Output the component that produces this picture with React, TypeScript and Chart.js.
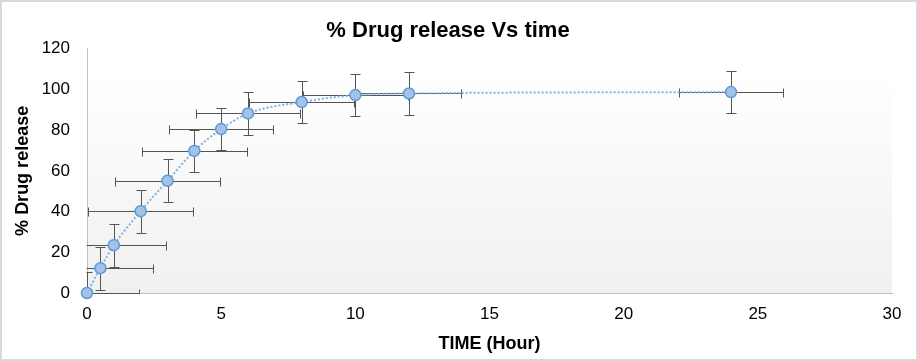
import React, { useEffect, useRef } from 'react';
import { Chart, registerables } from 'chart.js';

Chart.register(...registerables);

const chartTitle = '% Drug release Vs time';
const xAxisTitle = 'TIME (Hour)';
const yAxisTitle = '% Drug release';

const timeHours = [0, 0.5, 1, 2, 3, 4, 5, 6, 8, 10, 12, 24];
const drugRelease = [0, 12.2, 23.5, 40.2, 55.1, 69.8, 80.5, 88.2, 93.8, 97.2, 98.0, 98.7];
const releaseError = [10.5, 10.5, 10.5, 10.5, 10.5, 10.5, 10.5, 10.5, 10.5, 10.5, 10.5, 10.5];
const timeError = [1.95, 1.95, 1.95, 1.95, 1.95, 1.95, 1.95, 1.95, 1.95, 1.95, 1.95, 1.95];

const xMin = 0;
const xMax = 30;
const xStep = 5;
const yMin = 0;
const yMax = 120;
const yStep = 20;

const FONT = "Arial, 'Liberation Sans', sans-serif";

const backgroundPlugin = {
  id: 'bgAndBorder',
  beforeDraw(chart: any) {
    const { ctx, chartArea, width, height } = chart;
    ctx.save();
    ctx.fillStyle = '#ffffff';
    ctx.fillRect(0, 0, width, height);
    const g = ctx.createLinearGradient(0, chartArea.top, 0, chartArea.bottom);
    g.addColorStop(0, '#ffffff');
    g.addColorStop(0.1, '#ffffff');
    g.addColorStop(1, '#f0f0f0');
    ctx.fillStyle = g;
    ctx.fillRect(chartArea.left, chartArea.top, chartArea.right - chartArea.left, chartArea.bottom - chartArea.top);
    ctx.strokeStyle = '#d9d9d9';
    ctx.lineWidth = 2;
    ctx.strokeRect(1, 1, width - 2, height - 2);
    ctx.restore();
  },
};

const errorBarPlugin = {
  id: 'errorBars',
  beforeDatasetsDraw(chart: any) {
    const { ctx, chartArea } = chart;
    const xs = chart.scales.x;
    const ys = chart.scales.y;
    ctx.save();
    ctx.beginPath();
    ctx.rect(chartArea.left - 0.5, chartArea.top, chartArea.right - chartArea.left + 1, chartArea.bottom - chartArea.top + 1);
    ctx.clip();
    ctx.strokeStyle = '#555555';
    ctx.lineWidth = 1;
    const snap = (v: number) => Math.round(v) + 0.5;
    timeHours.forEach((t, i) => {
      const v = drugRelease[i];
      const px = snap(xs.getPixelForValue(t));
      const py = snap(ys.getPixelForValue(v));
      const xl = snap(xs.getPixelForValue(t - timeError[i]));
      const xr = snap(xs.getPixelForValue(t + timeError[i]));
      const yt = snap(ys.getPixelForValue(v + releaseError[i]));
      const yb = snap(ys.getPixelForValue(v - releaseError[i]));
      ctx.beginPath();
      ctx.moveTo(xl, py);
      ctx.lineTo(xr, py);
      ctx.moveTo(xl, py - 4);
      ctx.lineTo(xl, py + 5);
      ctx.moveTo(xr, py - 4);
      ctx.lineTo(xr, py + 5);
      ctx.moveTo(px, yt);
      ctx.lineTo(px, yb);
      ctx.moveTo(px - 5, yt);
      ctx.lineTo(px + 5, yt);
      ctx.moveTo(px - 5, yb);
      ctx.lineTo(px + 5, yb);
      ctx.stroke();
    });
    ctx.restore();
  },
};

export default function App() {
  const canvasRef = useRef<HTMLCanvasElement | null>(null);

  useEffect(() => {
    document.body.style.margin = '0';
    const canvas = canvasRef.current;
    if (!canvas) return;
    const chart = new Chart(canvas, {
      type: 'scatter',
      data: {
        datasets: [
          {
            label: yAxisTitle,
            data: timeHours.map((t, i) => ({ x: t, y: drugRelease[i] })),
            showLine: true,
            cubicInterpolationMode: 'monotone',
            borderColor: '#7fb0e2',
            borderWidth: 2,
            borderDash: [2, 2],
            pointRadius: 5.5,
            pointBorderWidth: 1.5,
            pointBackgroundColor: '#a4c2e8',
            pointBorderColor: '#5b9bd5',
            clip: false,
          } as any,
        ],
      },
      options: {
        animation: false,
        responsive: false,
        devicePixelRatio: 1,
        layout: { padding: { left: 4, right: 26, top: 18, bottom: 6 } },
        plugins: {
          legend: { display: false },
          tooltip: { enabled: false },
          title: {
            display: true,
            text: chartTitle,
            color: '#000000',
            font: { family: FONT, size: 22, weight: 'bold', lineHeight: 1.2 },
            padding: { top: 0, bottom: 4.3 },
          },
        },
        scales: {
          x: {
            type: 'linear',
            min: xMin,
            max: xMax,
            grid: { display: false, drawTicks: false },
            border: { display: true, color: '#bfbfbf', width: 1 },
            ticks: {
              stepSize: xStep,
              color: '#000000',
              padding: 11,
              maxRotation: 0,
              font: { family: FONT, size: 17 },
            },
            title: {
              display: true,
              text: xAxisTitle,
              color: '#000000',
              font: { family: FONT, size: 18, weight: 'bold', lineHeight: 1.2 },
              padding: { top: 0, bottom: 0 },
            },
            afterFit(scale: any) {
              scale.height = 62;
            },
          },
          y: {
            type: 'linear',
            min: yMin,
            max: yMax,
            grid: { display: false, drawTicks: false },
            border: { display: true, color: '#bfbfbf', width: 1 },
            ticks: {
              stepSize: yStep,
              color: '#000000',
              padding: 17,
              font: { family: FONT, size: 17 },
            },
            title: {
              display: true,
              text: yAxisTitle,
              color: '#000000',
              font: { family: FONT, size: 18, weight: 'bold', lineHeight: 1.2 },
              padding: { top: 8, bottom: 0 },
            },
            afterFit(scale: any) {
              scale.width = 83;
            },
          },
        },
      } as any,
      plugins: [backgroundPlugin, errorBarPlugin],
    });
    return () => chart.destroy();
  }, []);

  return (
    <div style={{ width: 918, height: 361 }}>
      <canvas ref={canvasRef} width={918} height={361} style={{ display: 'block' }} />
    </div>
  );
}
